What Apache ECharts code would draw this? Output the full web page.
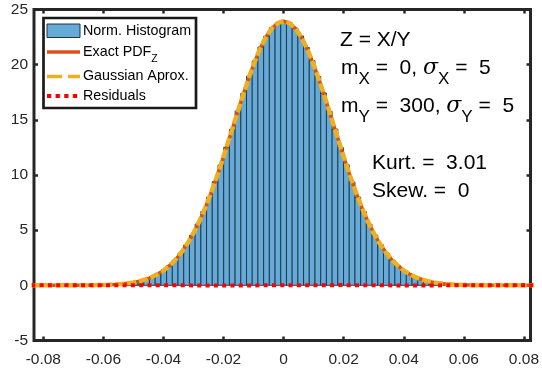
<!DOCTYPE html>
<html>
<head>
<meta charset="utf-8">
<script src="https://cdn.jsdelivr.net/npm/echarts@6/dist/echarts.min.js"></script>
<style>
html,body{margin:0;padding:0;background:#fff;}
#chart{width:542px;height:371px;}
</style>
</head>
<body>
<div id="chart"></div>
<script>
// ---------- data ----------
var xTicks = [-0.08, -0.06, -0.04, -0.02, 0, 0.02, 0.04, 0.06, 0.08];
var yTicks = [-5, 0, 5, 10, 15, 20, 25];
var binWidth = 0.0019;
var histCenters = [-0.0608,-0.0589,-0.0570,-0.0551,-0.0532,-0.0513,-0.0494,-0.0475,-0.0456,-0.0437,-0.0418,-0.0399,-0.0380,-0.0361,-0.0342,-0.0323,-0.0304,-0.0285,-0.0266,-0.0247,-0.0228,-0.0209,-0.0190,-0.0171,-0.0152,-0.0133,-0.0114,-0.0095,-0.0076,-0.0057,-0.0038,-0.0019,0,
  0.0019,0.0038,0.0057,0.0076,0.0095,0.0114,0.0133,0.0152,0.0171,0.0190,0.0209,0.0228,0.0247,0.0266,0.0285,0.0304,0.0323,0.0342,0.0361,0.0380,0.0399,0.0418,0.0437,0.0456,0.0475,0.0494,0.0513,0.0532,0.0551,0.0570,0.0589,0.0608];
var histValues = [0.03,0.05,0.07,0.10,0.15,0.21,0.30,0.41,0.57,0.77,1.03,1.36,1.78,2.29,2.92,3.66,4.52,5.55,6.70,7.97,9.40,10.90,12.51,14.13,15.80,17.40,18.96,20.34,21.60,22.57,23.35,23.76,23.93,
  23.80,23.31,22.60,21.56,20.37,18.93,17.43,15.77,14.16,12.48,10.93,9.37,8.00,6.68,5.53,4.54,3.67,2.90,2.30,1.77,1.37,1.02,0.78,0.56,0.42,0.29,0.22,0.14,0.10,0.07,0.04,0.03];
var curveX = [-0.084,-0.082,-0.080,-0.078,-0.076,-0.074,-0.072,-0.070,-0.068,-0.066,-0.064,-0.062,-0.060,-0.058,-0.056,-0.054,-0.052,-0.050,-0.048,-0.046,-0.044,-0.042,-0.040,-0.038,-0.036,-0.034,-0.032,-0.030,-0.028,-0.026,-0.024,-0.022,-0.020,-0.018,-0.016,-0.014,-0.012,-0.010,-0.008,-0.006,-0.004,-0.002,0,
  0.002,0.004,0.006,0.008,0.010,0.012,0.014,0.016,0.018,0.020,0.022,0.024,0.026,0.028,0.030,0.032,0.034,0.036,0.038,0.040,0.042,0.044,0.046,0.048,0.050,0.052,0.054,0.056,0.058,0.060,0.062,0.064,0.066,0.068,0.070,0.072,0.074,0.076,0.078,0.080,0.082,0.084];
var exactPdf = [0,0,0,0,0,0.001,0.002,0.003,0.005,0.009,0.015,0.024,0.036,0.056,0.085,0.126,0.18,0.27,0.38,0.53,0.73,1.00,1.34,1.78,2.32,2.99,3.79,4.73,5.83,7.09,8.49,10.02,11.65,13.37,15.10,16.82,18.46,20.00,21.34,22.44,23.26,23.77,23.94,
  23.77,23.26,22.44,21.34,20.00,18.46,16.82,15.10,13.37,11.65,10.02,8.49,7.09,5.83,4.73,3.79,2.99,2.32,1.78,1.34,1.00,0.73,0.53,0.38,0.27,0.18,0.126,0.085,0.056,0.036,0.024,0.015,0.009,0.005,0.003,0.002,0.001,0,0,0,0,0];
var gaussPdf = [0,0,0,0,0,0.001,0.002,0.003,0.005,0.009,0.015,0.024,0.036,0.056,0.085,0.126,0.18,0.27,0.38,0.53,0.73,1.00,1.34,1.78,2.32,2.99,3.79,4.73,5.83,7.09,8.49,10.02,11.65,13.37,15.10,16.82,18.46,20.00,21.34,22.44,23.26,23.77,23.94,
  23.77,23.26,22.44,21.34,20.00,18.46,16.82,15.10,13.37,11.65,10.02,8.49,7.09,5.83,4.73,3.79,2.99,2.32,1.78,1.34,1.00,0.73,0.53,0.38,0.27,0.18,0.126,0.085,0.056,0.036,0.024,0.015,0.009,0.005,0.003,0.002,0.001,0,0,0,0,0];
var residX = [-0.084,-0.06,-0.04,-0.02,0,0.02,0.04,0.06,0.084];
var residY = [0,0,0.01,-0.02,0.01,0.02,-0.01,0,0];

// ---------- build ----------
function zip(a, b){ var r=[]; for (var i=0;i<a.length;i++) r.push([a[i], b[i]]); return r; }
var FONT = '"Liberation Sans", Arial, Helvetica, sans-serif';
var SERIF = '"DejaVu Serif", "Liberation Serif", serif';
var AX = '#262626';
var tickStyle = {show:true, inside:true, length:4, lineStyle:{color:AX, width:2.5}};

var chart = echarts.init(document.getElementById('chart'), null, {renderer:'canvas'});
var xMin = -0.0831, xMax = 0.0822;
function xAxisDef(pos, showLabel){
  return {
    type:'value', position:pos, min:xMin, max:xMax,
    axisLine:{show:false, onZero:false},
    axisTick:Object.assign({customValues:xTicks}, tickStyle),
    splitLine:{show:false},
    axisLabel:{show:showLabel, customValues:xTicks, fontSize:15.5, color:AX, fontFamily:FONT, margin:11,
      formatter:function(v){ return Math.abs(v) < 1e-9 ? '0' : v.toFixed(2); }}
  };
}
function yAxisDef(pos, showLabel){
  return {
    type:'value', position:pos, min:-5, max:25, interval:5,
    axisLine:{show:false, onZero:false},
    axisTick:Object.assign({customValues:yTicks}, tickStyle),
    splitLine:{show:false},
    axisLabel:{show:showLabel, customValues:yTicks, fontSize:15.5, color:AX, fontFamily:FONT, margin:6}
  };
}
function subRich(){
  return {n:{fontSize:21, fontFamily:FONT, lineHeight:39, verticalAlign:'middle'},
          g:{fontSize:22, fontFamily:SERIF, fontStyle:'italic', lineHeight:39, verticalAlign:'middle'},
          s:{fontSize:17, fontFamily:FONT, lineHeight:17, verticalAlign:'bottom'}};
}

var legendX0 = 47, legendX1 = 80, legendTextX = 83;
var option = {
  animation:false,
  backgroundColor:'#fff',
  grid:{left:34, right:7, top:9.5, bottom:30.5, show:true, borderWidth:3, borderColor:AX, backgroundColor:'#fff'},
  xAxis:[xAxisDef('bottom', true), xAxisDef('top', false)],
  yAxis:[yAxisDef('left', true), yAxisDef('right', false)],
  series:[
    {
      name:'Norm. Histogram', type:'custom', xAxisIndex:0, yAxisIndex:0,
      data:zip(histCenters, histValues),
      encode:{x:0, y:1},
      renderItem:function(params, api){
        var c = api.value(0), v = api.value(1);
        var p0 = api.coord([c - binWidth/2, 0]);
        var p1 = api.coord([c + binWidth/2, v]);
        return {type:'rect', shape:{x:p0[0], y:p1[1], width:p1[0]-p0[0], height:p0[1]-p1[1]},
          style:{fill:'#66AAD7', stroke:'#1d3144', lineWidth:0.9}};
      },
      z:2
    },
    {
      name:'Exact PDF', type:'line', data:zip(curveX, exactPdf), symbol:'none',
      lineStyle:{color:'#D95319', width:3.5}, z:3
    },
    {
      name:'Gaussian Aprox.', type:'line', data:zip(curveX, gaussPdf), symbol:'none',
      lineStyle:{color:'#EDB120', width:4.5, type:[9,3]}, z:4
    },
    {
      name:'Residuals', type:'line', data:zip(residX, residY), symbol:'none',
      lineStyle:{color:'#FF0000', width:4, type:[4,4.3], cap:'butt'}, z:5
    }
  ],
  graphic:[
    // legend
    {type:'rect', shape:{x:43.5, y:18, width:152.5, height:90}, style:{fill:'#fff', stroke:'#1a1a1a', lineWidth:2.7}, z:100},
    {type:'rect', shape:{x:legendX0, y:24, width:legendX1-legendX0, height:13.5}, style:{fill:'#66AAD7', stroke:'#203548', lineWidth:1}, z:101},
    {type:'line', shape:{x1:legendX0, y1:52, x2:legendX1, y2:52}, style:{stroke:'#D95319', lineWidth:3.5}, z:101},
    {type:'line', shape:{x1:legendX0, y1:76.5, x2:legendX1, y2:76.5}, style:{stroke:'#EDB120', lineWidth:3.5, lineDash:[15,6]}, z:101},
    {type:'line', shape:{x1:legendX0, y1:96, x2:legendX1, y2:96}, style:{stroke:'#FF0000', lineWidth:4, lineDash:[4.3,4.3]}, z:101},
    {type:'text', style:{x:legendTextX, y:31, text:'Norm. Histogram', font:'14.3px '+FONT, fill:'#000', verticalAlign:'middle'}, z:101},
    {type:'text', style:{x:legendTextX, y:52, text:'{n|Exact PDF}{s|Z}', verticalAlign:'middle', fill:'#000',
      rich:{n:{fontSize:14.3, fontFamily:FONT, lineHeight:26, verticalAlign:'middle'}, s:{fontSize:10.5, fontFamily:FONT, lineHeight:10, verticalAlign:'bottom'}}}, z:101},
    {type:'text', style:{x:legendTextX, y:76.5, text:'Gaussian Aprox.', font:'14.3px '+FONT, fill:'#000', verticalAlign:'middle'}, z:101},
    {type:'text', style:{x:legendTextX, y:96, text:'Residuals', font:'14.3px '+FONT, fill:'#000', verticalAlign:'middle'}, z:101},
    // annotations
    {type:'text', style:{x:340, y:40.5, text:'Z = X/Y', font:'21px '+FONT, fill:'#000', verticalAlign:'middle'}, z:101},
    {type:'text', style:{x:341, y:68.5, text:'{n|m}{s|X}{n| =  0, }{g|σ}{s|X}{n| =  5}', verticalAlign:'middle', fill:'#000', rich:subRich()}, z:101},
    {type:'text', style:{x:341, y:106.5, text:'{n|m}{s|Y}{n| =  300, }{g|σ}{s|Y}{n| =  5}', verticalAlign:'middle', fill:'#000', rich:subRich()}, z:101},
    {type:'text', style:{x:372, y:163.5, text:'Kurt. =  3.01', font:'21px '+FONT, fill:'#000', verticalAlign:'middle'}, z:101},
    {type:'text', style:{x:372, y:191, text:'Skew. =  0', font:'21px '+FONT, fill:'#000', verticalAlign:'middle'}, z:101}
  ]
};
chart.setOption(option);
</script>
</body>
</html>
